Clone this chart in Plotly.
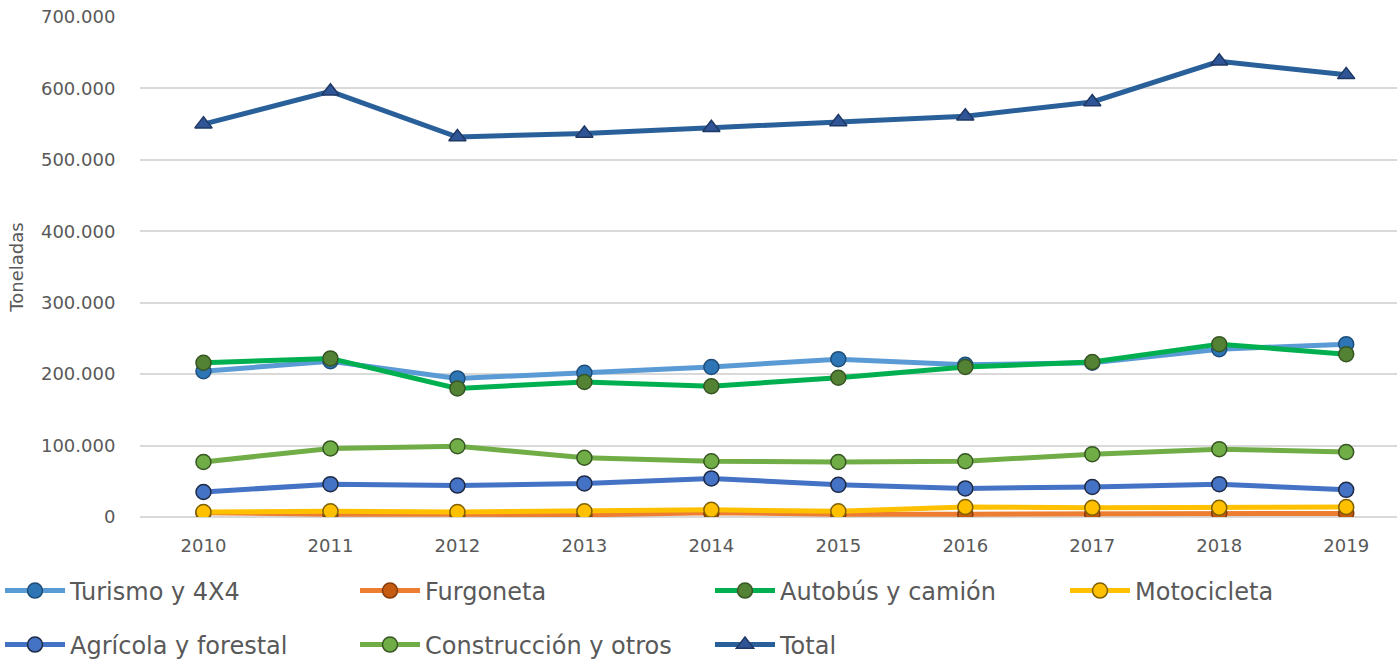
import plotly.graph_objects as go

years = ["2010", "2011", "2012", "2013", "2014", "2015", "2016", "2017", "2018", "2019"]

turismo = [204000, 218000, 194000, 202000, 210000, 221000, 213000, 216000, 235000, 242000]
furgoneta = [6000, 4000, 4000, 3000, 6000, 4000, 4000, 4000, 5000, 5000]
autobus = [216000, 222000, 180000, 189000, 183000, 195000, 210000, 217000, 242000, 228000]
motocicleta = [7000, 8000, 7000, 8000, 10000, 8000, 14000, 13000, 13000, 14000]
agricola = [35000, 46000, 44000, 47000, 54000, 45000, 40000, 42000, 46000, 38000]
construccion = [77000, 96000, 99000, 83000, 78000, 77000, 78000, 88000, 95000, 91000]
total = [550000, 596000, 532000, 537000, 545000, 553000, 561000, 581000, 638000, 619000]

y_ticks = [0, 100000, 200000, 300000, 400000, 500000, 600000, 700000]

series = [
    ("Turismo y 4X4", turismo, "#5B9BD5", "#2E75B6", "#1F4E79", "circle", "legend"),
    ("Furgoneta", furgoneta, "#ED7D31", "#C55A11", "#843C0C", "circle", "legend"),
    ("Autobús y camión", autobus, "#00B050", "#548235", "#375623", "circle", "legend"),
    ("Motocicleta", motocicleta, "#FFC000", "#FFC000", "#7F6000", "circle", "legend3"),
    ("Agrícola y forestal", agricola, "#4472C4", "#4472C4", "#1F2A44", "circle", "legend2"),
    ("Construcción y otros", construccion, "#70AD47", "#70AD47", "#375623", "circle", "legend2"),
    ("Total", total, "#2A6099", "#2F5597", "#1F3864", "triangle-up", "legend2"),
]

fig = go.Figure()
for name, vals, lc, mc, oc, sym, leg in series:
    fig.add_trace(go.Scatter(
        x=years, y=vals, name=name, mode="lines+markers",
        line=dict(color=lc, width=5),
        marker=dict(symbol=sym, size=15, color=mc,
                    line=dict(color=oc, width=1.5)),
        legend=leg,
    ))

W, H = 1397, 659
L, T, B = 140, 17, 142
PW = W - L
PH = H - T - B

font_color = "#595959"
legend_common = dict(
    orientation="h", xanchor="left", yanchor="middle",
    entrywidth=280, entrywidthmode="pixels",
    itemwidth=60, font=dict(family="DejaVu Sans", size=24, color=font_color),
    bgcolor="rgba(0,0,0,0)", traceorder="normal",
)
row1_y = -(591 - 517) / PH
row2_y = -(645 - 517) / PH
x0 = -140 / PW

fig.update_layout(
    width=W, height=H,
    margin=dict(l=L, r=0, t=T, b=B, autoexpand=False),
    paper_bgcolor="white", plot_bgcolor="white",
    separators=",.",
    showlegend=True,
    legend=dict(**legend_common, x=x0, y=row1_y),
    legend3=dict(**legend_common, x=x0 + 3 * 355 / PW, y=row1_y),
    legend2=dict(**legend_common, x=x0, y=row2_y),
    font=dict(family="DejaVu Sans", color=font_color),
)

fig.update_xaxes(
    type="category", range=[-0.5, 9.4], showgrid=False, showline=False, zeroline=False,
    automargin=False, ticklabeloverflow="allow",
    ticks="outside", ticklen=12, tickcolor="rgba(0,0,0,0)",
    tickfont=dict(family="DejaVu Sans", size=18, color=font_color),
)
fig.update_yaxes(
    range=[0, 700000], tickvals=y_ticks, tickformat=",d",
    automargin=False, ticklabeloverflow="allow",
    showgrid=True, gridcolor="#D9D9D9", gridwidth=1.5,
    zeroline=True, zerolinecolor="#D9D9D9", zerolinewidth=1.5, showline=False,
    ticks="outside", ticklen=20, tickcolor="rgba(0,0,0,0)",
    tickfont=dict(family="DejaVu Sans", size=18, color=font_color),
    title=dict(text="Toneladas", font=dict(family="DejaVu Sans", size=18, color=font_color), standoff=12),
)

fig.write_html(
    "out.html",
    config={"displayModeBar": False},
    post_script="document.body.style.margin='0';document.body.style.overflow='hidden';",
)
